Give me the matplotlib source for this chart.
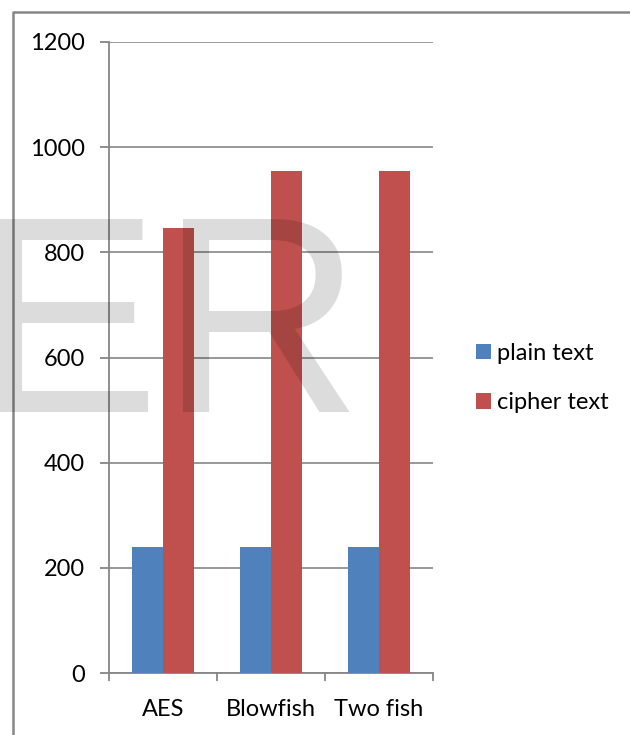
import matplotlib
matplotlib.use("Agg")
import matplotlib.pyplot as plt
import numpy as np
from matplotlib.lines import Line2D

categories = ["AES", "Blowfish", "Two fish"]
plain_text = [240, 240, 240]
cipher_text = [847, 955, 955]
series_names = ["plain text", "cipher text"]
y_ticks = [0, 200, 400, 600, 800, 1000, 1200]

BLUE = "#4f81bd"
RED = "#c0504d"
GRAY = "#868686"

W, H, DPI = 630, 735, 100
fig = plt.figure(figsize=(W / DPI, H / DPI), dpi=DPI)
plt.rcParams["font.family"] = ["Lato", "DejaVu Sans"]

def fx(px):
    return px / W

def fy(py):
    return 1 - py / H

ax = fig.add_axes([fx(109), fy(673), fx(433) - fx(109), fy(42) - fy(673)])

x = np.arange(len(categories))
bw = 0.284
b1 = ax.bar(x - bw / 2, plain_text, bw, color=BLUE, zorder=3, label=series_names[0])
b2 = ax.bar(x + bw / 2, cipher_text, bw, color=RED, zorder=3, label=series_names[1])

ax.set_xlim(-0.5, len(categories) - 0.5)
ax.set_ylim(0, 1200)
ax.set_yticks(y_ticks)
ax.set_yticklabels([str(v) for v in y_ticks])
ax.set_xticks(x)
ax.set_xticklabels(categories)
ax.set_xticks(np.arange(len(categories) + 1) - 0.5, minor=True)

ax.yaxis.grid(True, color=GRAY, linewidth=1.2, zorder=1)
ax.set_axisbelow(True)
for s in ["top", "right"]:
    ax.spines[s].set_visible(False)
for s in ["left", "bottom"]:
    ax.spines[s].set_color(GRAY)
    ax.spines[s].set_linewidth(1.3)

ax.tick_params(axis="y", length=6.5, width=1.3, color=GRAY, pad=11, labelsize=17)
ax.tick_params(axis="x", which="major", length=0, pad=19, labelsize=17)
ax.tick_params(axis="x", which="minor", length=6, width=1.3, color=GRAY)

leg = ax.legend(handles=[b1, b2], loc="center left",
                bbox_to_anchor=(fx(476), fy(378)), bbox_transform=fig.transFigure,
                frameon=False, fontsize=17, handlelength=0.64, handleheight=0.64,
                handletextpad=0.25, labelspacing=1.2, borderpad=0, borderaxespad=0)

# outer chart frame
fig.add_artist(Line2D([fx(13), fx(13), fx(640)], [fy(740), fy(12), fy(12)],
                      transform=fig.transFigure, color=GRAY, linewidth=1.8))

# watermark
fig.text(fx(-27), fy(412), "ER", fontsize=202, family="Liberation Sans",
         color="black", alpha=0.137, ha="left", va="baseline", zorder=10)

fig.savefig("out.png", dpi=DPI)
